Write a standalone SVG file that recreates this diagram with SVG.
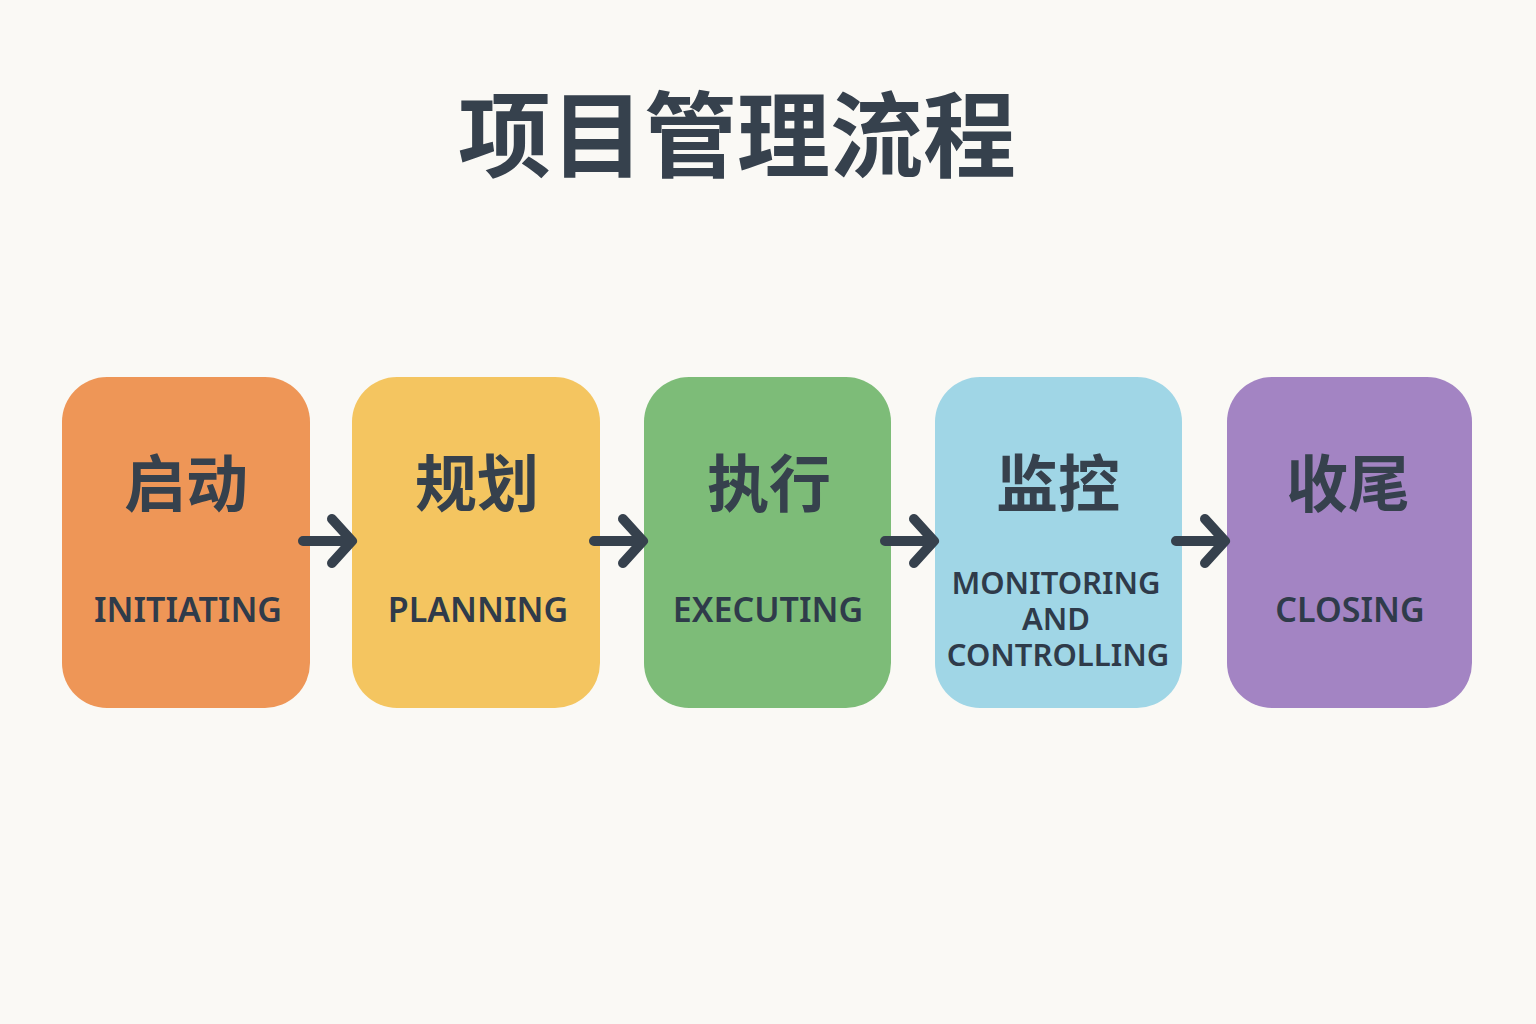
<svg xmlns="http://www.w3.org/2000/svg" width="1536" height="1024" viewBox="0 0 1536 1024">
<style>
.zh{font-family:"Noto Sans CJK SC","Noto Sans",sans-serif;font-weight:700;fill:#36414D;text-anchor:middle}
.en{font-family:"Noto Sans","Liberation Sans",sans-serif;font-weight:600;fill:#2F3B4A;text-anchor:middle;font-size:34px}
.sm{font-size:31px}
.ar{fill:none;stroke:#36414D;stroke-width:10;stroke-linecap:round;stroke-linejoin:round}
</style>
<rect width="1536" height="1024" fill="#FAF9F5"/>
<text class="zh" x="737" y="170" font-size="93">项目管理流程</text>
<g id="n1"><rect x="62" y="377" width="248" height="331" rx="45" fill="#EE9657"/><text class="zh" x="186" y="507" font-size="62">启动</text><text class="en" x="188" y="622">INITIATING</text></g>
<g id="n2"><rect x="352" y="377" width="248" height="331" rx="45" fill="#F4C560"/><text class="zh" x="477" y="507" font-size="62">规划</text><text class="en" x="478" y="622">PLANNING</text></g>
<g id="n3"><rect x="644" y="377" width="247" height="331" rx="45" fill="#7DBC78"/><text class="zh" x="769" y="507" font-size="62">执行</text><text class="en" x="768" y="622">EXECUTING</text></g>
<g id="n4"><rect x="935" y="377" width="247" height="331" rx="45" fill="#A0D6E6"/><text class="zh" x="1058" y="507" font-size="62">监控</text><text class="en sm" x="1056" y="594">MONITORING</text><text class="en sm" x="1056" y="630">AND</text><text class="en sm" x="1058" y="666">CONTROLLING</text></g>
<g id="n5"><rect x="1227" y="377" width="245" height="331" rx="45" fill="#A384C3"/><text class="zh" x="1348" y="507" font-size="62">收尾</text><text class="en" x="1350" y="622">CLOSING</text></g>
<g id="connectors">
<path class="ar" d="M303 541H352M332 519L352 541L332 563"/>
<path class="ar" d="M594 541H643M623 519L643 541L623 563"/>
<path class="ar" d="M885 541H934M914 519L934 541L914 563"/>
<path class="ar" d="M1176 541H1225M1205 519L1225 541L1205 563"/>
</g>
</svg>
